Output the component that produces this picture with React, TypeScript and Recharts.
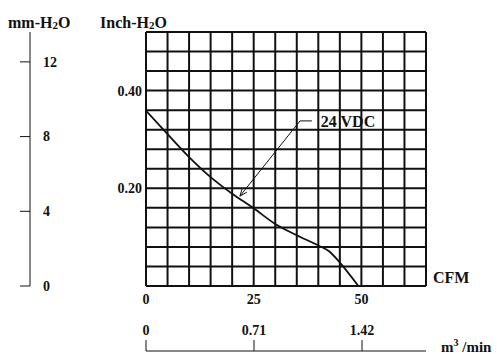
import { CartesianGrid, Line, LineChart, ReferenceDot, ReferenceLine, XAxis, YAxis } from 'recharts';

// airflow (CFM) vs static pressure (inch-H2O)
const cfm = [0, 5, 10, 15, 20, 25, 30, 35, 40, 42.5, 45, 49.3];
const pressureInch = [0.359, 0.311, 0.264, 0.223, 0.189, 0.159, 0.127, 0.104, 0.083, 0.071, 0.048, 0];

const cfmTicks = [0, 5, 10, 15, 20, 25, 30, 35, 40, 45, 50, 55, 60, 65];
const cfmLabels = [0, 25, 50];
const inchTicks = [0, 0.04, 0.08, 0.12, 0.16, 0.2, 0.24, 0.28, 0.32, 0.36, 0.4, 0.44, 0.48, 0.52];
const inchLabels = [0.2, 0.4];
const mmTicks = [0, 4, 8, 12];
const m3Ticks = [0, 0.71, 1.42];

const CFM_MAX = 65;
const INCH_MAX = 0.52;
const MM_MAX = 13.6;
const CFM_TO_M3 = 0.0283168;
const M3_MAX = CFM_MAX * CFM_TO_M3;

const FONT = '"Liberation Serif", "Times New Roman", serif';
const INK = '#111';

const data = cfm.map((x, i) => ({ cfm: x, m3: x * CFM_TO_M3, inch: pressureInch[i] }));

function CfmTick({ x, y, payload }: any) {
  if (!cfmLabels.includes(payload.value)) return null;
  return (
    <text x={x} y={y} dy={18} textAnchor="middle" fontSize={14} fontWeight="bold" fontFamily={FONT} fill={INK}>
      {payload.value}
    </text>
  );
}

function InchTick({ x, y, payload }: any) {
  if (!inchLabels.includes(payload.value)) return null;
  return (
    <text x={x - 4} y={y} dy="0.35em" textAnchor="end" fontSize={14} fontWeight="bold" fontFamily={FONT} fill={INK}>
      {payload.value.toFixed(2)}
    </text>
  );
}

function MmTick({ x, y, payload }: any) {
  return (
    <g>
      <line x1={x - 10} y1={y} x2={x} y2={y} stroke={INK} strokeWidth={1} />
      <text x={x + 13} y={y} dy="0.35em" textAnchor="start" fontSize={14} fontWeight="bold" fontFamily={FONT} fill={INK}>
        {payload.value}
      </text>
    </g>
  );
}

function M3Tick({ x, y, payload }: any) {
  return (
    <g>
      <line x1={x} y1={y} x2={x} y2={y - 11} stroke={INK} strokeWidth={1} />
      <text x={x} y={y - 16} textAnchor="middle" fontSize={14} fontWeight="bold" fontFamily={FONT} fill={INK}>
        {payload.value}
      </text>
    </g>
  );
}

function ArrowLine({ x1, y1, x2, y2 }: any) {
  const a = Math.atan2(y2 - y1, x2 - x1);
  const len = 8;
  const spread = 0.38;
  const p1 = [x2 - len * Math.cos(a - spread), y2 - len * Math.sin(a - spread)];
  const p2 = [x2 - len * Math.cos(a + spread), y2 - len * Math.sin(a + spread)];
  return (
    <g stroke={INK} strokeWidth={1} fill="none">
      <line x1={x1} y1={y1} x2={x2} y2={y2} />
      <polyline points={`${p1[0]},${p1[1]} ${x2},${y2} ${p2[0]},${p2[1]}`} />
    </g>
  );
}

export default function App() {
  return (
    <div style={{ position: 'relative', width: 497, height: 362 }}>
      <style>{'body{margin:0}'}</style>
      <LineChart width={497} height={362} data={data} margin={{ top: 32, right: 71, bottom: 0, left: 0 }}>
        <CartesianGrid xAxisId="cfm" yAxisId="in" stroke={INK} strokeWidth={2} />
        <XAxis
          xAxisId="cfm"
          dataKey="cfm"
          type="number"
          domain={[0, CFM_MAX]}
          allowDataOverflow
          ticks={cfmTicks}
          interval={0}
          height={65}
          tickSize={0}
          tickMargin={0}
          axisLine={false}
          tickLine={false}
          tick={<CfmTick />}
        />
        <XAxis
          xAxisId="m3"
          dataKey="m3"
          type="number"
          domain={[0, M3_MAX]}
          allowDataOverflow
          ticks={m3Ticks}
          interval={0}
          height={11}
          tickSize={0}
          tickMargin={0}
          axisLine={{ stroke: INK, strokeWidth: 1 }}
          tickLine={false}
          tick={<M3Tick />}
        />
        <YAxis
          yAxisId="in"
          type="number"
          domain={[0, INCH_MAX]}
          allowDataOverflow
          ticks={inchTicks}
          interval={0}
          width={116}
          tickSize={0}
          tickMargin={0}
          axisLine={false}
          tickLine={false}
          tick={<InchTick />}
        />
        <YAxis
          yAxisId="mm"
          type="number"
          domain={[0, MM_MAX]}
          allowDataOverflow
          ticks={mmTicks}
          interval={0}
          width={30}
          tickSize={0}
          tickMargin={0}
          axisLine={{ stroke: INK, strokeWidth: 1 }}
          tickLine={false}
          tick={<MmTick />}
        />
        <Line
          xAxisId="cfm"
          yAxisId="in"
          type="monotone"
          dataKey="inch"
          stroke={INK}
          strokeWidth={1.8}
          dot={false}
          isAnimationActive={false}
        />
        <ReferenceLine
          xAxisId="cfm"
          yAxisId="in"
          segment={[{ x: 35.75, y: 0.338 }, { x: 21.8, y: 0.184 }]}
          shape={<ArrowLine />}
        />
        <ReferenceLine
          xAxisId="cfm"
          yAxisId="in"
          segment={[{ x: 35.75, y: 0.338 }, { x: 38.5, y: 0.338 }]}
          stroke={INK}
          strokeWidth={1}
        />
        <ReferenceDot
          xAxisId="cfm"
          yAxisId="in"
          x={38.5}
          y={0.338}
          r={0}
          fill="none"
          stroke="none"
          label={{ value: '24 VDC', position: 'right', offset: 9, fill: INK, fontSize: 16, fontWeight: 'bold', fontFamily: FONT }}
        />
      </LineChart>
      <svg width={497} height={362} style={{ position: 'absolute', left: 0, top: 0, pointerEvents: 'none' }}>
        <g fontFamily={FONT} fontWeight="bold" fill={INK}>
          <text x={8} y={28} fontSize={16}>
            mm-H<tspan fontSize={11} dy={1}>2</tspan>
            <tspan dy={-1}>O</tspan>
          </text>
          <text x={100} y={28} fontSize={16}>
            Inch-H<tspan fontSize={11} dy={1}>2</tspan>
            <tspan dy={-1}>O</tspan>
          </text>
          <text x={433} y={283} fontSize={16}>CFM</text>
          <text x={441} y={352} fontSize={15}>
            m<tspan fontSize={10} dy={-6}>3</tspan>
            <tspan dy={6}> /min</tspan>
          </text>
        </g>
      </svg>
    </div>
  );
}
